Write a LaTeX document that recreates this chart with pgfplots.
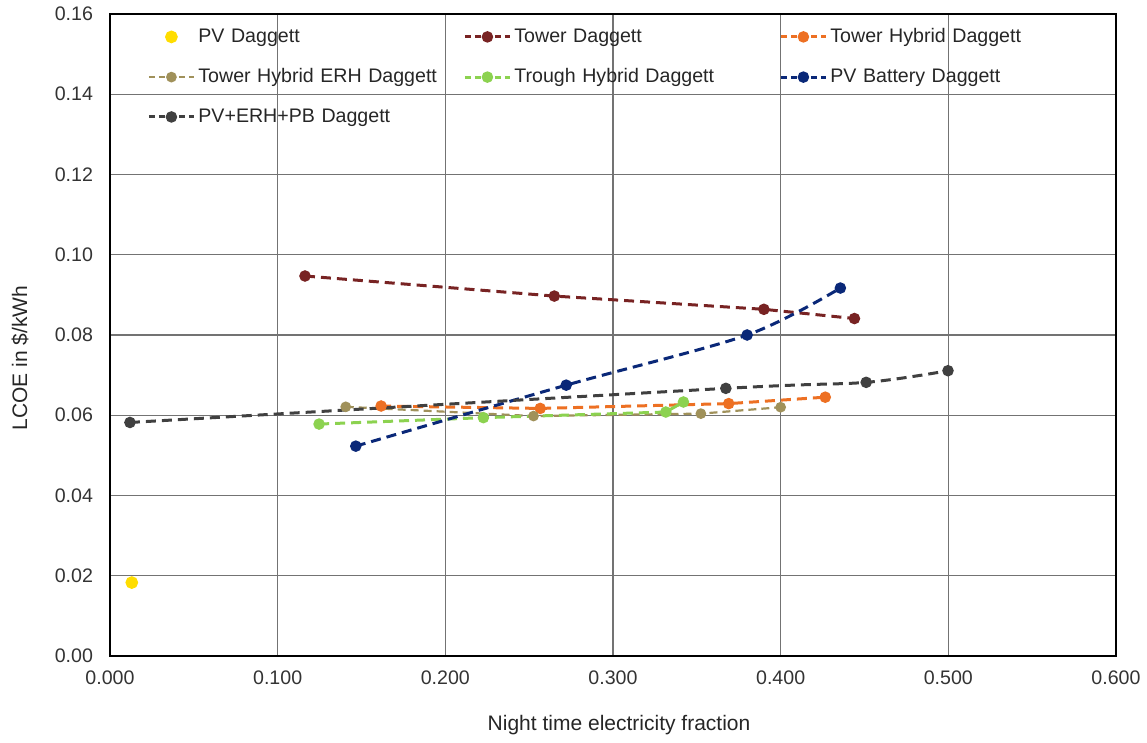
\documentclass[border=0pt]{standalone}
\usepackage{fontspec}
\setmainfont{Liberation Sans}
\usepackage{pgfplots}
\pgfplotsset{compat=1.18}
\definecolor{pvY}{RGB}{255,221,0}
\definecolor{towR}{RGB}{120,35,35}
\definecolor{towO}{RGB}{237,112,35}
\definecolor{erhK}{RGB}{160,145,90}
\definecolor{troG}{RGB}{140,210,80}
\definecolor{batN}{RGB}{10,40,120}
\definecolor{pbG}{RGB}{64,64,64}
\begin{document}
\begin{tikzpicture}
\useasboundingbox (-55pt,-43.5pt) rectangle (518.5pt,328pt);
\begin{axis}[
  at={(0pt,0pt)}, anchor=south west,
  scale only axis, width=503pt, height=321pt,
  xmin=0, xmax=0.6, ymin=0, ymax=0.16,
  xtick={0,0.1,0.2,0.3,0.4,0.5,0.6},
  ytick={0,0.02,0.04,0.06,0.08,0.1,0.12,0.14,0.16},
  scaled ticks=false,
  xticklabel style={/pgf/number format/fixed, /pgf/number format/fixed zerofill, /pgf/number format/precision=3, /pgf/number format/assume math mode=true, yshift=-4pt},
  yticklabel style={/pgf/number format/fixed, /pgf/number format/fixed zerofill, /pgf/number format/precision=2, /pgf/number format/assume math mode=true, xshift=-5pt},
  ticklabel style={font=\fontsize{9.8}{11}\selectfont, text=black!80},
  tick style={draw=none},
  grid=major,
  major grid style={draw=black!55, line width=0.6pt},
  axis line style={line width=1pt, black},
  xlabel={Night time electricity fraction},
  ylabel={LCOE in \$/kWh},
  label style={font=\fontsize{10.5}{12}\selectfont, text=black!85},
  xlabel style={at={(axis description cs:0.506,-0.1075)}, anchor=center},
  ylabel style={at={(axis description cs:-0.0895,0.464)}, anchor=center},
  legend columns=3,
  legend cell align=left,
  legend style={at={(axis description cs:0.0368,0.983)}, anchor=north west, draw=none, fill=none,
    font=\fontsize{9.8}{11}\selectfont, text=black!85, inner sep=0pt, row sep=8.5pt,
    nodes={text width=131pt, align=left, inner sep=1.5pt}},
  legend image code/.code={\draw[mark repeat=2,mark phase=2, dash pattern=on 3pt off 2pt] plot coordinates {(0pt,0pt)(11.25pt,0pt)(22.5pt,0pt)};},
  every axis plot/.append style={line width=1.5pt, dash pattern=on 5pt off 3pt},
  mark size=2.1pt,
]
\addplot[only marks, mark=*, mark size=2.4pt, color=pvY, mark options={solid}] coordinates {(0.013,0.0183)};
\addlegendentry{PV Daggett}
\addplot[color=towR, mark=*, mark options={solid}] coordinates {(0.1163,0.0947)(0.265,0.0897)(0.390,0.0864)(0.444,0.0841)};
\addlegendentry{Tower Daggett}
\addplot[color=towO, mark=*, mark options={solid}] coordinates {(0.1617,0.0623)(0.2566,0.0617)(0.369,0.0629)(0.4266,0.0645)};
\addlegendentry{Tower Hybrid Daggett}
\addplot[color=erhK, mark=*, line width=1.1pt, dash pattern=on 4pt off 2.5pt, mark options={solid}] coordinates {(0.1406,0.0621)(0.2526,0.0598)(0.3524,0.0604)(0.400,0.0620)};
\addlegendentry{Tower Hybrid ERH Daggett}
\addplot[color=troG, mark=*, mark options={solid}] coordinates {(0.1247,0.0578)(0.2227,0.0594)(0.3315,0.0608)(0.342,0.0633)};
\addlegendentry{Trough Hybrid Daggett}
\addplot[color=batN, mark=*, smooth, mark options={solid}] coordinates {(0.1466,0.0523)(0.2721,0.0675)(0.380,0.0800)(0.4356,0.0917)};
\addlegendentry{PV Battery Daggett}
\addplot[color=pbG, mark=*, smooth, mark options={solid}] coordinates {(0.0119,0.0582)(0.3673,0.0667)(0.451,0.0682)(0.4998,0.0711)};
\addlegendentry{PV+ERH+PB Daggett}
\end{axis}
\end{tikzpicture}
\end{document}
